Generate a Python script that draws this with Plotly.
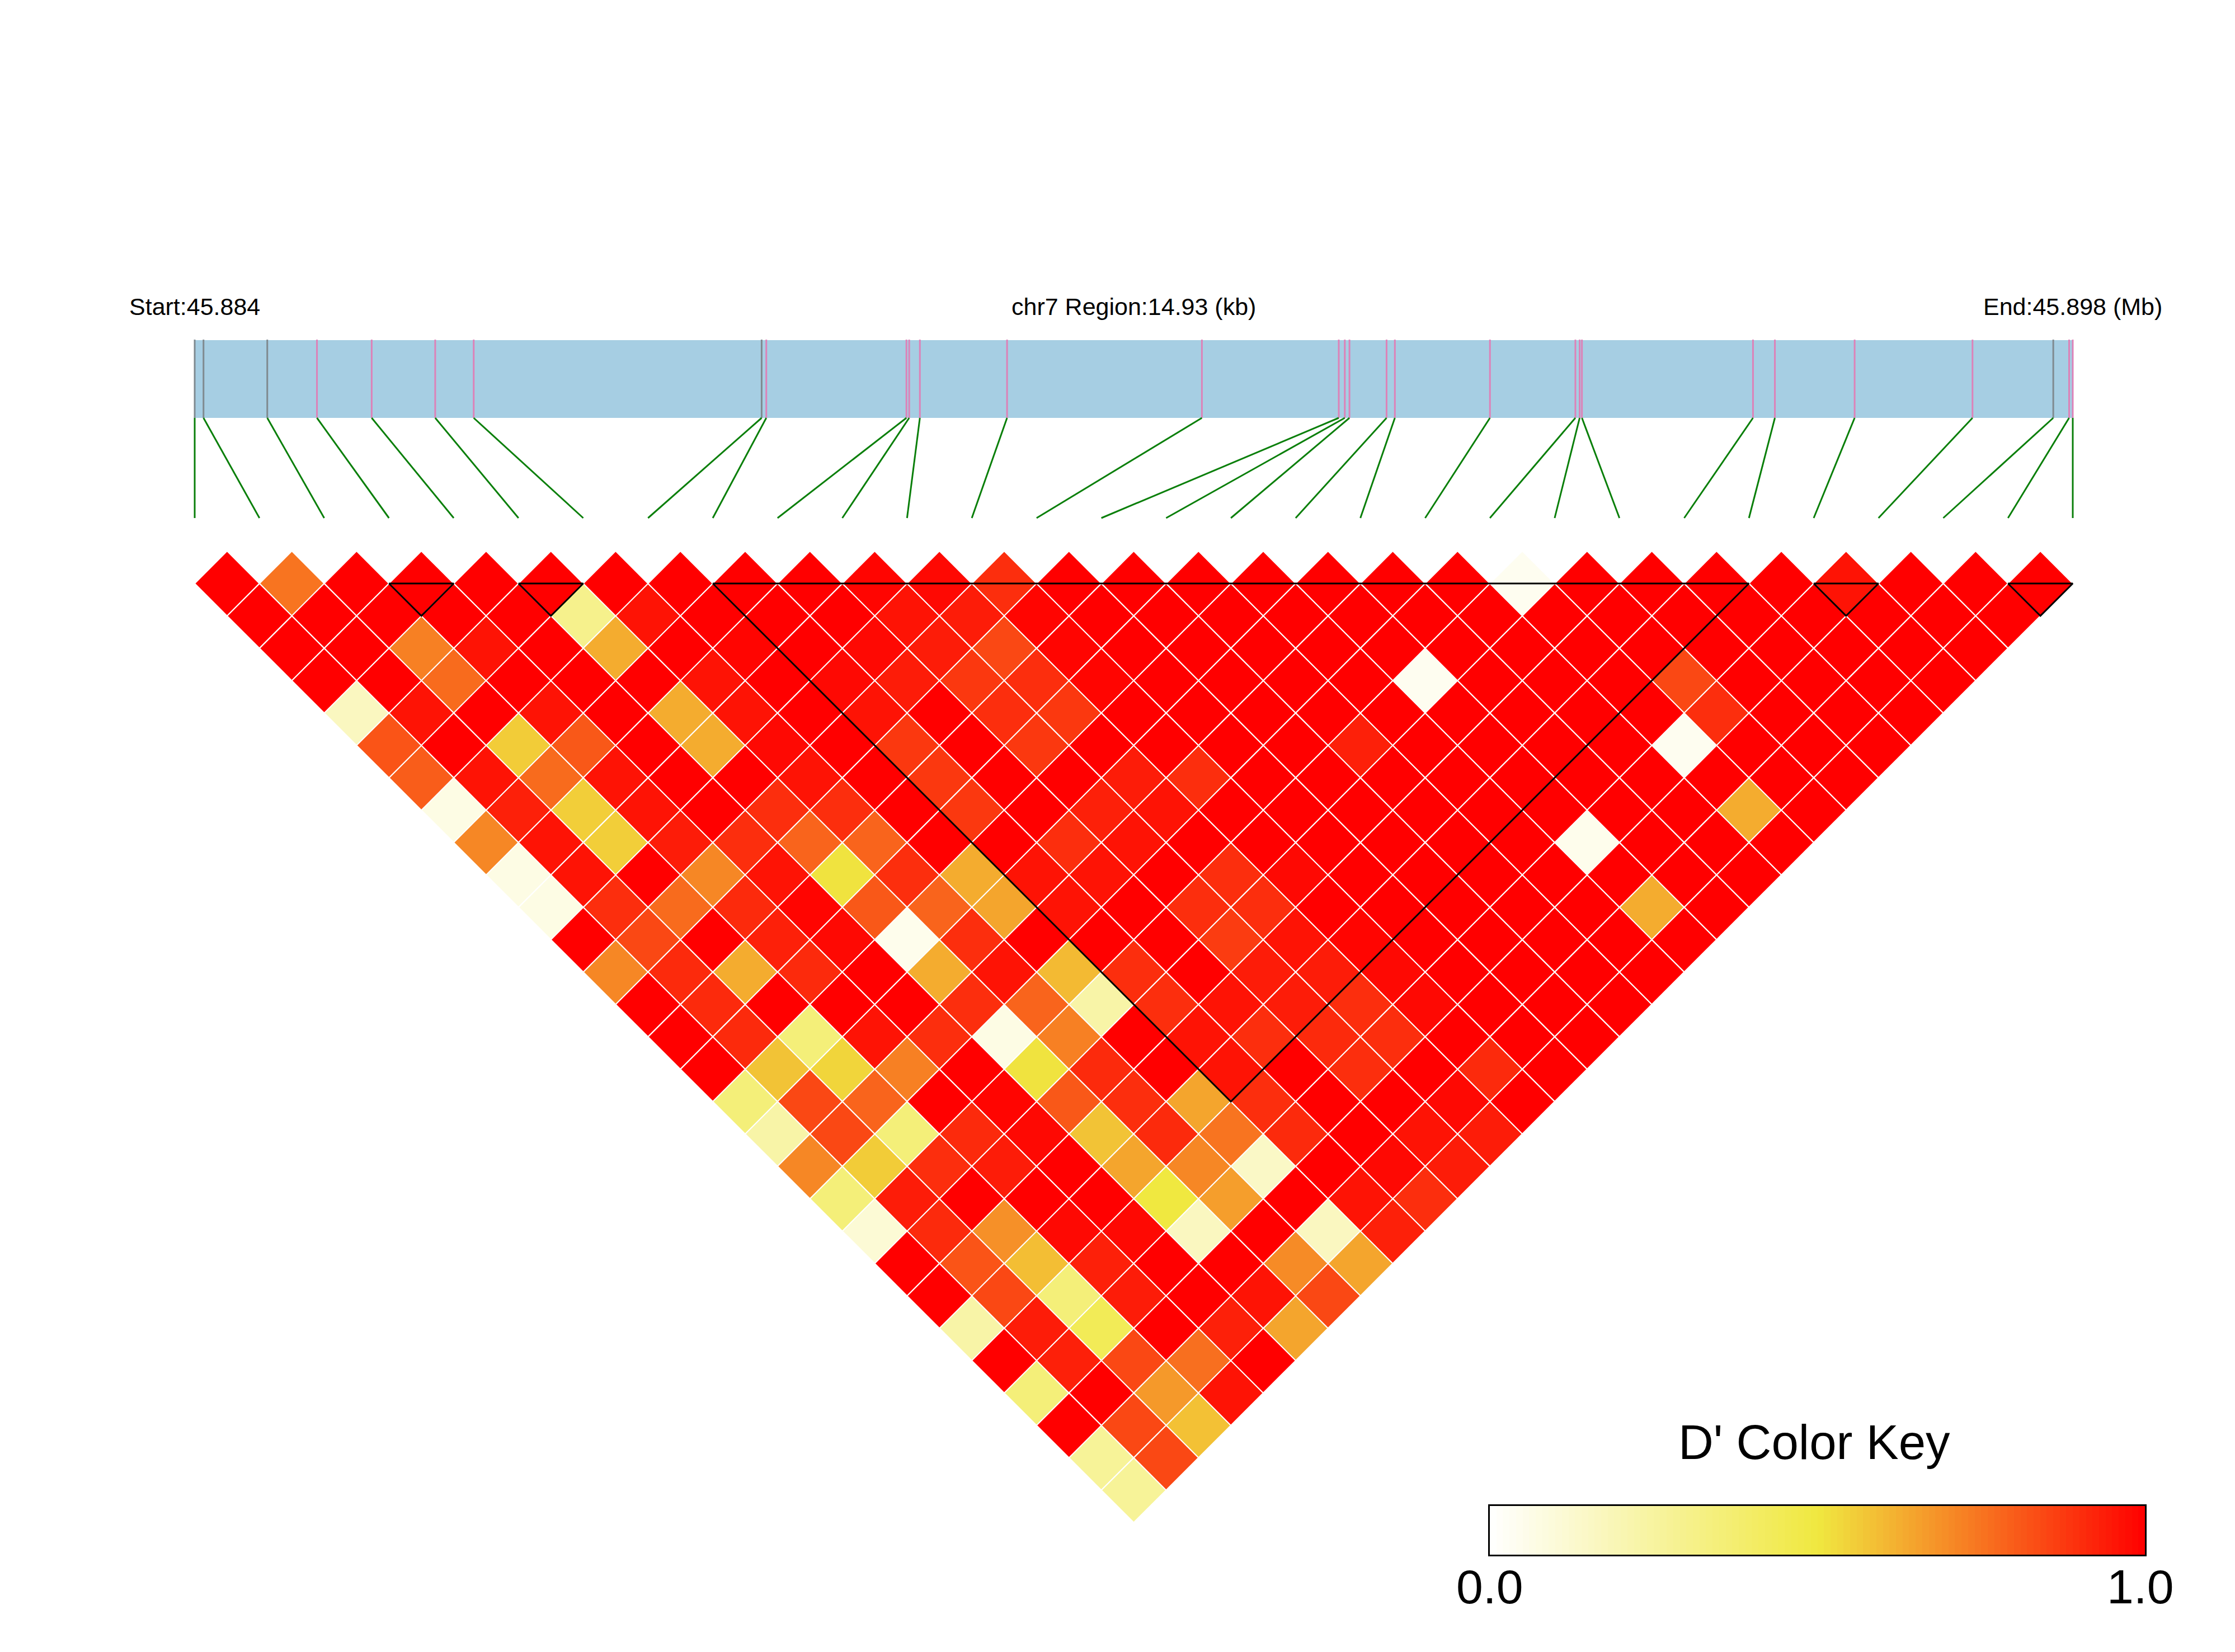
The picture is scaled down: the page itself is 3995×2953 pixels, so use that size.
import plotly.graph_objects as go
from plotly.colors import sample_colorscale

# ---------- data ----------
snp_pos_kb = [0, .070, .577, .972, 1.407, 1.912, 2.218, 4.507, 4.544, 5.658, 5.680, 5.765, 6.458, 8.007, 9.095,
              9.143, 9.180, 9.475, 9.541, 10.297, 10.976, 11.010, 11.028, 12.388, 12.562, 13.196, 14.133, 14.775,
              14.901, 14.93]
snp_is_gray = [0, 1, 2, 7, 27]
ld_blocks = [(3, 4), (5, 6), (8, 24), (25, 26), (28, 29)]
labels_top = ["Start:45.884", "chr7 Region:14.93 (kb)", "End:45.898 (Mb)"]
key_title = "D' Color Key"
key_ticks = ["0.0", "1.0"]

# D' by SNP separation; position in each list is the left SNP's index
sep01 = [1, .75, 1, 1, 1, 1, 1, 1, 1, 1, .99, .98, .90, 1, 1, 1, 1, 1, 1, 1, .04, 1, 1, 1, 1, .96, 1, 1, 1]
sep02 = [1, 1, 1, 1, 1, .30, .96, 1, 1, 1, .96, .94, .99] + [1] * 15
sep03 = [1, 1, .725, .96, 1, .63, 1, .99, 1, .98, .94, .845, .99] + [1] * 14
sep04 = [1, 1, .77, 1, 1, 1, .96, 1, .98, .94, .88, .90, .99, 1, 1, 1, 1, .04, 1, 1, 1, .845, 1, 1, 1, 1]
sep05 = [.165, .96, 1, .96, 1, .63, .96, 1, .96, 1, .90, .88, 1, 1, 1, 1, 1, 1, 1, 1, 1, .90, 1, 1, 1]
sep06 = [.82, 1, .56, .81, 1, .63, .98, 1, .88, 1, .88, 1, 1, 1, 1, .93, 1, 1, 1, 1, .04, 1, 1, 1]
sep07 = [.80, .96, .77, .96, 1, 1, .96, 1, .88, 1, 1, .94, .90] + [1] * 10
sep08 = [.07, .93, .555, .96, 1, .90, .90, 1, .88, 1, .93, .96, 1, 1, 1, 1, 1, 1, 1, 1, .63, 1]
sep09 = [.71, .96, .555, .94, .90, .785, .785, 1, 1, .90, .96, 1, 1, 1, 1, 1, 1, .05, 1, 1, 1]
sep10 = [.07, .96, 1, .71, .96, .51, .90, .63, .96, .96, 1, .90, .98, 1, 1, 1, 1, 1, 1, 1]
sep11 = [.07, .90, .77, .91, .99, .81, .785, .645, .96, 1, .90, .90, 1, 1, 1, 1, 1, .63, 1]
sep12 = [1, .845, 1, .93, .98, .05, .90, 1, 1, 1, .87, .96, .99, 1, 1, 1, 1, 1]
sep13 = [.71, .91, .63, .91, 1, .63, .96, .60, .90, 1, .94, .94, .98, 1, 1, 1, 1]
sep14 = [1, .91, 1, 1, 1, .90, .785, .23, .90, .96, .94, .90, .98, 1, 1, 1]
sep15 = [1, .91, .35, .96, .90, .07, .725, 1, .96, .90, .91, .90, 1, 1, 1]
sep16 = [1, .58, .54, .725, 1, .51, .91, 1, .96, 1, .90, 1, .91, 1]
sep17 = [.35, .845, .785, 1, .99, .81, .90, .645, .90, 1, 1, .98, 1]
sep18 = [.23, .845, .35, .91, .98, .58, .91, .75, .91, 1, .96, .94]
sep19 = [.71, .56, .90, .94, 1, .645, .71, .15, 1, .98, .94]
sep20 = [.35, .94, 1, 1, 1, .5, .66, 1, .96, .90]
sep21 = [.11, .91, .69, .98, .98, .165, 1, .165, .93]
sep22 = [1, .82, .59, .93, 1, 1, .70, .645]
sep23 = [1, .845, .35, .94, 1, .96, .845]
sep24 = [.23, .94, .44, 1, .93, .645]
sep25 = [1, .93, .845, .76, 1]
sep26 = [.35, 1, .67, .96]
sep27 = [1, .845, .585]
sep28 = [.27, .845]
sep29 = [.27]
separations = [sep01, sep02, sep03, sep04, sep05, sep06, sep07, sep08, sep09, sep10, sep11, sep12, sep13, sep14,
               sep15, sep16, sep17, sep18, sep19, sep20, sep21, sep22, sep23, sep24, sep25, sep26, sep27, sep28, sep29]

# ---------- page layout (pixels) ----------
W, H = 3995, 2953
PX_LEFT, PX_RIGHT = 348.0, 3705.0
PX_ROW0 = 1043.0
N = len(snp_pos_kb)
UNIT = (PX_RIGHT - PX_LEFT) / (N - 1)
x_range = [-PX_LEFT / UNIT, (W - PX_LEFT) / UNIT]
y_range = [(H - PX_ROW0) / UNIT, -PX_ROW0 / UNIT]


def py(px):
    return (px - PX_ROW0) / UNIT


BAR_TOP, BAR_BOT, CONN_END = py(608), py(747), py(926)
colorscale = [[0, "#FFFFFF"], [.5, "#F0E840"], [1, "#FF0000"]]
FONT = "Liberation Sans"

fig = go.Figure()
common = dict(hoverinfo="skip", showlegend=False)

# chromosome bar
fig.add_trace(go.Scatter(x=[0, N - 1, N - 1, 0, 0], y=[BAR_TOP, BAR_TOP, BAR_BOT, BAR_BOT, BAR_TOP], mode="lines",
                         fill="toself", fillcolor="#A6CEE3", line=dict(width=0), **common))
span = snp_pos_kb[-1]
snp_x = [p / span * (N - 1) for p in snp_pos_kb]
for i, sx in enumerate(snp_x):
    col = "#7F8A90" if i in snp_is_gray else "#DD82B8"
    fig.add_trace(go.Scatter(x=[sx, sx], y=[BAR_TOP - .008, BAR_BOT], mode="lines", line=dict(color=col, width=3), **common))
    fig.add_trace(go.Scatter(x=[sx, i], y=[BAR_BOT, CONN_END], mode="lines", line=dict(color="#0A7F0A", width=3), **common))

# cells, grouped by value
groups = {}
for k, row in enumerate(separations):
    d = k + 1
    for i, v in enumerate(row):
        cx, cy = i + d / 2, (d - 1) / 2
        xs, ys = groups.setdefault(v, ([], []))
        xs += [cx - .5, cx, cx + .5, cx, cx - .5, None]
        ys += [cy, cy - .5, cy, cy + .5, cy, None]
for v, (xs, ys) in sorted(groups.items()):
    col = sample_colorscale(colorscale, [v])[0]
    fig.add_trace(go.Scatter(x=xs, y=ys, mode="lines", fill="toself", fillcolor=col,
                             line=dict(color="white", width=2), **common))

# LD blocks
for a, b in ld_blocks:
    fig.add_trace(go.Scatter(x=[a, b, (a + b) / 2, a], y=[0, 0, (b - a) / 2, 0], mode="lines",
                             line=dict(color="black", width=3), **common))

# colour key
key_steps = 100
key_x = [i / key_steps for i in range(key_steps + 1)]
key_z = [[(i + .5) / key_steps for i in range(key_steps)]]
fig.add_trace(go.Heatmap(x=key_x, y=[0, 1], z=key_z, zmin=0, zmax=1, colorscale=colorscale, showscale=False,
                         xaxis="x2", yaxis="y2", hoverinfo="skip"))

annots = [dict(x=xv, y=py(548), xref="x", yref="y", text=t, showarrow=False, xanchor="center", yanchor="middle",
               font=dict(family=FONT, size=43, color="black"))
          for xv, t in zip([0, (N - 1) / 2, N - 1], labels_top)]
annots.append(dict(x=.495, y=py(2577), xref="x2 domain", yref="y", text=key_title, showarrow=False, xanchor="center",
                   yanchor="middle", font=dict(family=FONT, size=87, color="black")))
for xv, t in zip([0, .993], key_ticks):
    annots.append(dict(x=xv, y=py(2836), xref="x2 domain", yref="y", text=t, showarrow=False, xanchor="center",
                       yanchor="middle", font=dict(family=FONT, size=86, color="black")))

fig.update_layout(
    template=None,
    width=W, height=H, autosize=False, margin=dict(l=0, r=0, t=0, b=0, autoexpand=False),
    paper_bgcolor="white", plot_bgcolor="white",
    xaxis=dict(range=x_range, visible=False, domain=[0, 1], automargin=False),
    yaxis=dict(range=y_range, visible=False, domain=[0, 1], automargin=False),
    xaxis2=dict(domain=[2663 / W, 3834 / W], range=[0, 1], anchor="y2", showgrid=False, zeroline=False,
                showline=True, mirror=True, linecolor="black", linewidth=3, ticks="", showticklabels=False,
                automargin=False),
    yaxis2=dict(domain=[1 - 2779 / H, 1 - 2692 / H], range=[0, 1], anchor="x2", showgrid=False, zeroline=False,
                showline=True, mirror=True, linecolor="black", linewidth=3, ticks="", showticklabels=False,
                automargin=False),
    annotations=annots,
)
fig.write_html("out.html", config={"displayModeBar": False}, post_script="document.body.style.margin='0';")
